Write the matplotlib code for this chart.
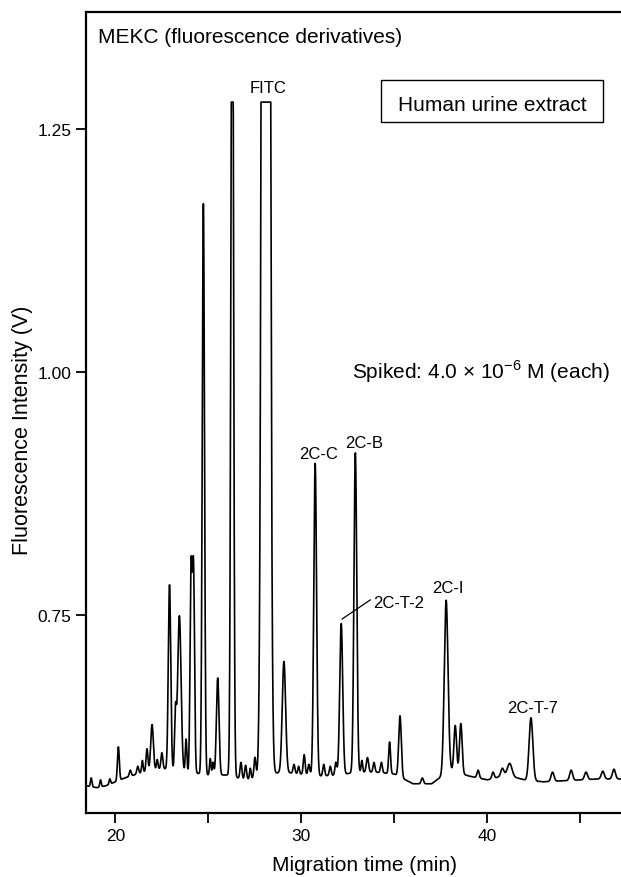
import numpy as np
import matplotlib.pyplot as plt
from matplotlib.patches import Rectangle

plt.rcParams['font.family'] = ['Liberation Sans', 'DejaVu Sans']
plt.rcParams['mathtext.fontset'] = 'custom'
plt.rcParams['mathtext.rm'] = 'Liberation Sans'

# Baseline (time in min, intensity in V)
base_t = [18.42, 19.0, 19.5, 20.0, 20.5, 21.0, 21.5, 22.0, 22.5, 23.0, 24.0, 25.0,
          26.0, 27.0, 28.0, 29.0, 30.0, 31.0, 32.0, 33.0, 34.0, 35.0, 36.0, 37.0,
          38.0, 39.0, 40.0, 41.0, 42.0, 43.0, 44.0, 45.0, 46.0, 47.18]
base_v = [0.574, 0.572, 0.574, 0.578, 0.582, 0.585, 0.588, 0.590, 0.592, 0.590, 0.588, 0.585,
          0.585, 0.580, 0.585, 0.588, 0.586, 0.584, 0.585, 0.588, 0.588, 0.586, 0.576, 0.576,
          0.590, 0.584, 0.580, 0.585, 0.580, 0.578, 0.579, 0.580, 0.581, 0.581]

# Peaks: migration time, apex (V), width (min)
peak_t = [18.70, 19.20, 19.70, 20.16, 20.80, 21.20, 21.45, 21.70, 21.97, 22.25, 22.50, 22.91,
          23.23, 23.44, 23.80, 24.07, 24.20, 24.73, 25.10, 25.25, 25.50, 26.28, 26.75, 27.00,
          27.25, 27.50, 28.09, 29.06, 29.60, 29.85, 30.15, 30.40, 30.74, 31.20, 31.55, 31.85,
          32.14, 32.90, 33.25, 33.55, 33.90, 34.30, 34.74, 35.30, 36.50, 37.78, 38.27, 38.57,
          39.50, 40.30, 40.80, 41.20, 42.34, 43.50, 44.50, 45.30, 46.20, 46.80]
peak_top = [0.582, 0.580, 0.581, 0.614, 0.590, 0.594, 0.600, 0.612, 0.637, 0.601, 0.608, 0.781,
            0.648, 0.749, 0.622, 0.795, 0.795, 1.174, 0.602, 0.598, 0.685, 1.600, 0.598, 0.595,
            0.592, 0.603, 6.000, 0.702, 0.596, 0.594, 0.606, 0.596, 0.906, 0.596, 0.594, 0.598,
            0.741, 0.917, 0.600, 0.603, 0.598, 0.598, 0.619, 0.646, 0.582, 0.765, 0.636, 0.638,
            0.590, 0.588, 0.592, 0.597, 0.644, 0.588, 0.590, 0.588, 0.589, 0.591]
peak_w = [0.04, 0.04, 0.04, 0.05, 0.05, 0.05, 0.04, 0.05, 0.07, 0.04, 0.05, 0.065,
          0.05, 0.09, 0.04, 0.055, 0.055, 0.06, 0.04, 0.04, 0.07, 0.065, 0.05, 0.05,
          0.04, 0.05, 0.13, 0.09, 0.05, 0.04, 0.05, 0.05, 0.075, 0.05, 0.05, 0.05,
          0.08, 0.075, 0.04, 0.06, 0.05, 0.05, 0.05, 0.07, 0.06, 0.10, 0.07, 0.07,
          0.06, 0.06, 0.08, 0.12, 0.10, 0.08, 0.08, 0.08, 0.08, 0.08]
saturation = 1.278  # detector clip level seen on the two largest peaks

labels = ['FITC', '2C-C', '2C-B', '2C-T-2', '2C-I', '2C-T-7']
label_xy = [(28.22, 1.288), (30.90, 0.911), (33.37, 0.923), (35.25, 0.758),
            (37.88, 0.774), (42.40, 0.650)]

x_ticks = [20, 25, 30, 35, 40, 45]
x_ticklabels = ['20', '', '30', '', '40', '']
y_ticks = [0.75, 1.00, 1.25]
y_ticklabels = ['0.75', '1.00', '1.25']

# build trace
t = np.linspace(18.42, 47.18, 4000)
trace = np.interp(t, base_t, base_v)
for pt, top, w in zip(peak_t, peak_top, peak_w):
    amp = top - np.interp(pt, base_t, base_v)
    trace = trace + amp * np.exp(-0.5 * ((t - pt) / w) ** 2)
trace = np.minimum(trace, saturation)

W, H = 621, 878
fig = plt.figure(figsize=(W / 100, H / 100), dpi=100)
ax = fig.add_axes([86 / W, 1 - 814 / H, 1 - 86 / W, (814 - 12.5) / H])

ax.plot(t, trace, color='black', lw=1.2)
ax.set_xlim(18.42, 47.18)
ax.set_ylim(0.5459, 1.3713)

for s in ['left', 'bottom', 'top']:
    ax.spines[s].set_linewidth(1.6)
ax.spines['right'].set_visible(False)

ax.set_xticks(x_ticks)
ax.set_xticklabels(x_ticklabels)
ax.set_yticks(y_ticks)
ax.set_yticklabels(y_ticklabels)
ax.tick_params(direction='out', length=7, width=1.3, labelsize=12.5, pad=3.5)

ax.set_xlabel('Migration time (min)', fontsize=15)
ax.xaxis.label.set_verticalalignment('center')
ax.xaxis.set_label_coords((365 - 86) / 535, (814 - 866) / 801.5)
ax.set_ylabel('Fluorescence Intensity (V)', fontsize=15.5)
ax.yaxis.label.set_verticalalignment('center')
ax.yaxis.set_label_coords((22.8 - 86) / 535, (814 - 430) / 801.5)

for lab, (lx, ly) in zip(labels, label_xy):
    ax.text(lx, ly, lab, ha='center', va='baseline', fontsize=12)
ax.plot([32.19, 33.70], [0.7457, 0.7653], color='black', lw=0.9)

fig.text(98 / W, 1 - 43.3 / H, 'MEKC (fluorescence derivatives)', fontsize=15, va='baseline')
fig.add_artist(Rectangle((381 / W, 1 - 123 / H), (603 - 381) / W, (123 - 81) / H,
                         transform=fig.transFigure, fill=False, lw=1.0, color='black'))
fig.text(492 / W, 1 - 111 / H, 'Human urine extract', fontsize=15, ha='center', va='baseline')
fig.text(610 / W, 1 - 379 / H, 'Spiked: 4.0 × 10$^{-6}$ M (each)', fontsize=15,
         ha='right', va='baseline')

fig.savefig('out.png', dpi=100)
